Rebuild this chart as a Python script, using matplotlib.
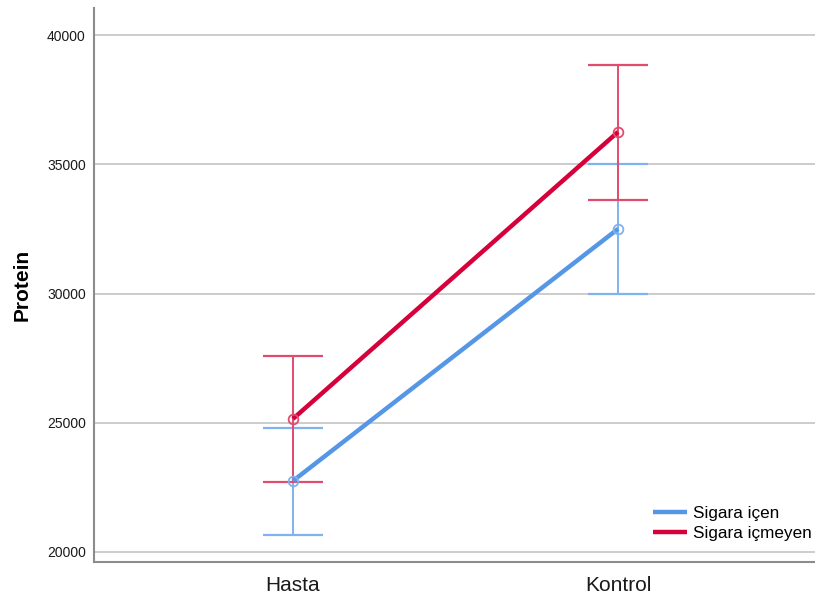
import matplotlib
matplotlib.use("Agg")
import matplotlib.pyplot as plt

categories = ["Hasta", "Kontrol"]
series_names = ["Sigara içen", "Sigara içmeyen"]
means_icen = [22750, 32500]
upper_icen = [24800, 35010]
lower_icen = [20660, 29980]
means_icmeyen = [25150, 36250]
upper_icmeyen = [27580, 38840]
lower_icmeyen = [22710, 33620]
yticks = [20000, 25000, 30000, 35000, 40000]

plt.rcParams['font.family'] = ['Liberation Sans', 'DejaVu Sans']

fig = plt.figure(figsize=(8.15, 6.01), dpi=100)
ax = fig.add_axes([94/815, 39/601, 1 - 94/815, (562-8)/601])

x = list(range(len(categories)))
blue = "#5597E6"
blue_err = "#7FB2EE"
red = "#D6003A"
red_err = "#E04C6E"

def draw(means, up, lo, col, ecol, label):
    yerr = [[m - l for m, l in zip(means, lo)], [u - m for m, u in zip(means, up)]]
    ax.errorbar(x, means, yerr=yerr, fmt='none', ecolor=ecol, elinewidth=1.4,
                capsize=21.5, capthick=1.6, zorder=3)
    ax.plot(x, means, color=col, lw=3.2, label=label, zorder=4, solid_capstyle='butt')
    ax.plot(x, means, 'o', ms=7, mfc='none', mec=ecol, mew=1.3, zorder=5)

draw(means_icen, upper_icen, lower_icen, blue, blue_err, series_names[0])
draw(means_icmeyen, upper_icmeyen, lower_icmeyen, red, red_err, series_names[1])

ax.set_xlim(-0.612, 1.606)
ax.set_ylim(19613, 41045)
ax.set_yticks(yticks)
ax.set_yticklabels([str(v) for v in yticks], fontsize=10)
ax.set_xticks(x)
ax.set_xticklabels(categories, fontsize=15)
ax.tick_params(axis='both', length=0, colors='#1a1a1a')
ax.tick_params(axis='y', pad=6)
ax.tick_params(axis='x', pad=10)
ax.grid(axis='y', color='#C8C8C8', lw=1.3, zorder=0)
ax.set_axisbelow(True)
for s in ['top', 'right']:
    ax.spines[s].set_visible(False)
for s in ['left', 'bottom']:
    ax.spines[s].set_color('#8C8C8C')
    ax.spines[s].set_linewidth(1.5)

ax.set_ylabel("Protein", fontsize=15, fontweight='bold', labelpad=11)

leg = ax.legend(loc='lower right', bbox_to_anchor=(0.996, 0.038), frameon=False,
                fontsize=12.3, handlelength=2.0, handletextpad=0.35,
                labelspacing=0.3, borderaxespad=0.0, borderpad=0.0)

fig.savefig("out.png", dpi=100)
